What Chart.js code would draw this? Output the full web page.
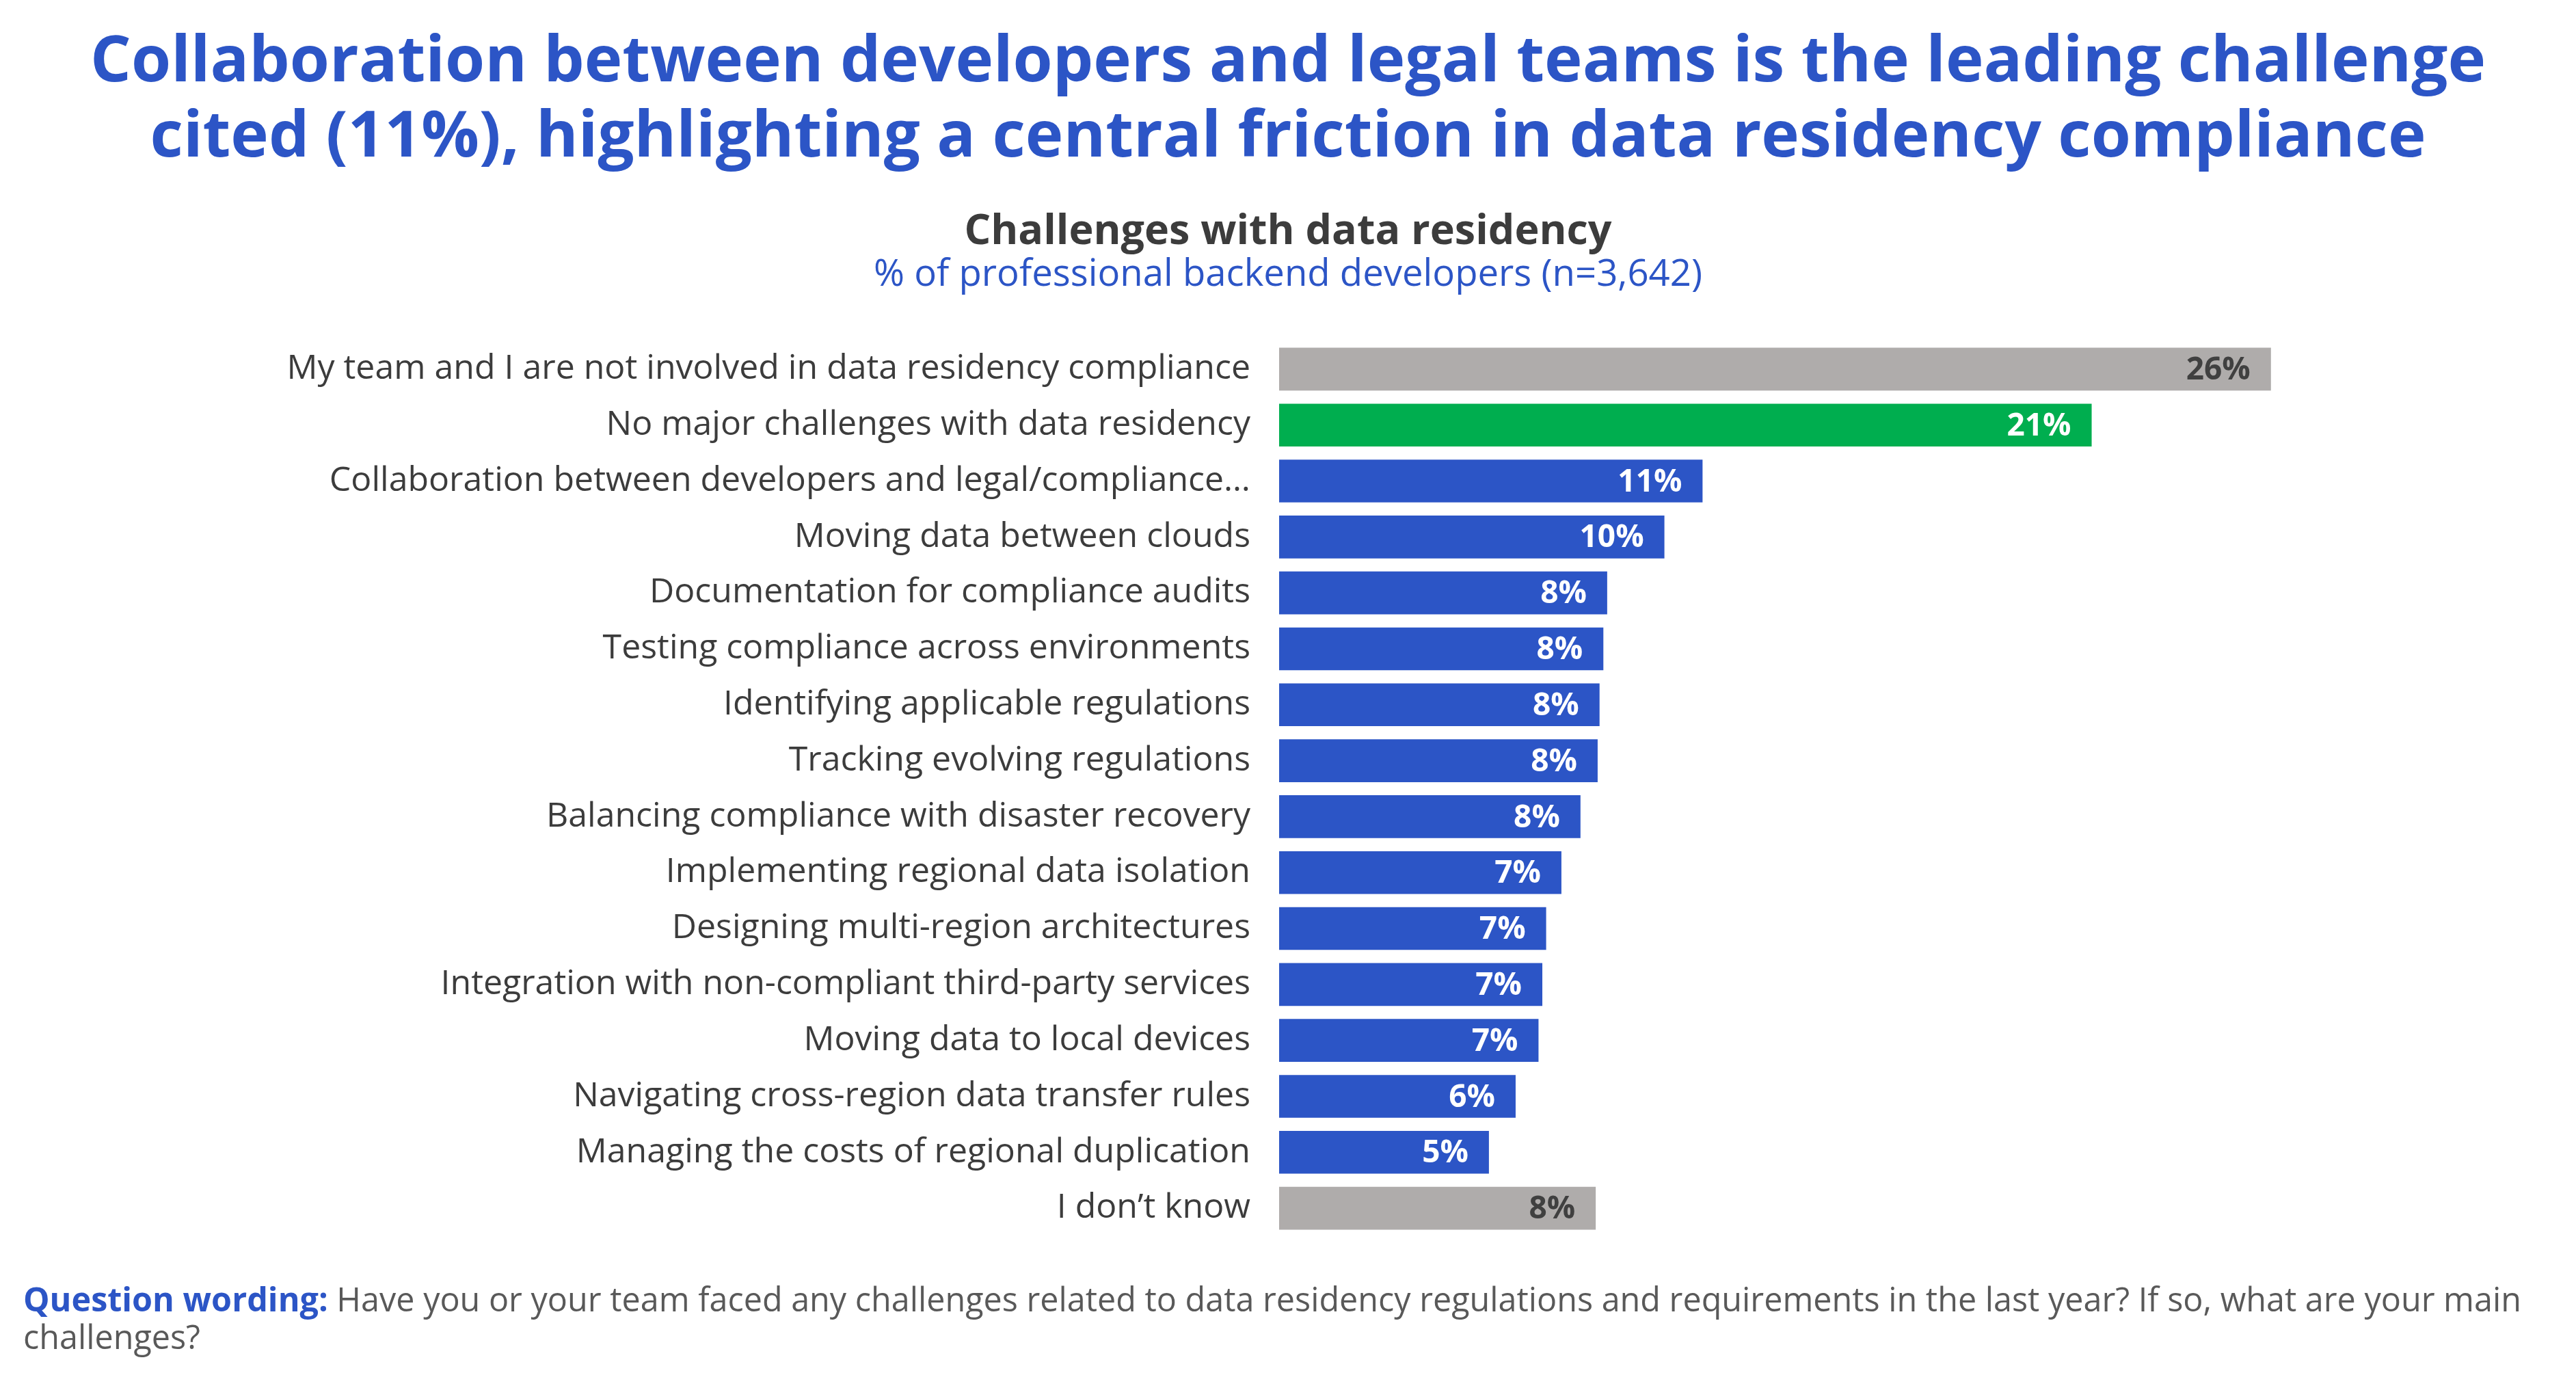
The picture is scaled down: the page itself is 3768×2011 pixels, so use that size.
<!DOCTYPE html>
<html>
<head>
<meta charset="utf-8">
<script src="https://cdn.jsdelivr.net/npm/chart.js@4.4.1/dist/chart.umd.min.js"></script>
<style>
  html, body { margin: 0; padding: 0; background: #fff; }
  body { width: 3768px; height: 2011px; position: relative; overflow: hidden; font-family: "Open Sans", sans-serif; }
  .txt { position: absolute; left: 0; width: 3768px; text-align: center; line-height: 1; white-space: nowrap; }
  .title { font-weight: 700; font-size: 94px; color: #2c55c6; }
  .sub1 { font-weight: 700; font-size: 61px; color: #3c3c3c; }
  .sub2 { font-size: 54.5px; color: #2c55c6; }
  .foot { text-align: left; left: 34px; font-size: 48.5px; color: #595959; }
  .foot b { color: #2c55c6; }
  #chart { position: absolute; left: 0; top: 0; }
</style>
</head>
<body>
<div class="txt title" style="top:36px">Collaboration between developers and legal teams is the leading challenge</div>
<div class="txt title" style="top:146px">cited (11%), highlighting a central friction in data residency compliance</div>
<div class="txt sub1" style="top:303px">Challenges with data residency</div>
<div class="txt sub2" style="top:370px">% of professional backend developers (n=3,642)</div>
<canvas id="chart" width="3768" height="2011"></canvas>
<div class="txt foot" style="top:1875px"><b>Question wording:</b> Have you or your team faced any challenges related to data residency regulations and requirements in the last year? If so, what are your main</div>
<div class="txt foot" style="top:1930px">challenges?</div>
<script>
// data
var categories = [
    'My team and I are not involved in data residency compliance',
    'No major challenges with data residency',
    'Collaboration between developers and legal/compliance…',
    'Moving data between clouds',
    'Documentation for compliance audits',
    'Testing compliance across environments',
    'Identifying applicable regulations',
    'Tracking evolving regulations',
    'Balancing compliance with disaster recovery',
    'Implementing regional data isolation',
    'Designing multi-region architectures',
    'Integration with non-compliant third-party services',
    'Moving data to local devices',
    'Navigating cross-region data transfer rules',
    'Managing the costs of regional duplication',
    'I don\u2019t know'
];
var values = [26, 21.3, 11.1, 10.1, 8.6, 8.5, 8.4, 8.35, 7.9, 7.4, 7.0, 6.9, 6.8, 6.2, 5.5, 8.3];
var shownLabels = ['26%', '21%', '11%', '10%', '8%', '8%', '8%', '8%', '8%', '7%', '7%', '7%', '7%', '6%', '5%', '8%'];
// bar groups: 'other' = grey, 'none' = green, 'challenge' = blue
var groups = ['other', 'none', 'challenge', 'challenge', 'challenge', 'challenge', 'challenge', 'challenge',
    'challenge', 'challenge', 'challenge', 'challenge', 'challenge', 'challenge', 'challenge', 'other'];

var groupColor = { other: '#afacab', none: '#00ae4f', challenge: '#2c55c6' };
var groupText = { other: '#404040', none: '#ffffff', challenge: '#ffffff' };

var valueLabels = {
    id: 'valueLabels',
    afterDatasetsDraw: function(chart) {
        var ctx = chart.ctx;
        var meta = chart.getDatasetMeta(0);
        ctx.save();
        ctx.font = '700 46px "Open Sans"';
        ctx.textAlign = 'right';
        ctx.textBaseline = 'middle';
        meta.data.forEach(function(bar, i) {
            ctx.fillStyle = groupText[groups[i]];
            ctx.fillText(shownLabels[i], bar.x - 30, bar.y + 2);
        });
        ctx.restore();
    }
};

var ctx = document.getElementById('chart').getContext('2d');
var myChart = new Chart(ctx, {
    type: 'bar',
    data: {
        labels: categories,
        datasets: [{
            data: values,
            backgroundColor: groups.map(function(g) { return groupColor[g]; }),
            borderWidth: 0,
            categoryPercentage: 1,
            barPercentage: 0.765
        }]
    },
    options: {
        indexAxis: 'y',
        responsive: false,
        animation: false,
        devicePixelRatio: 1,
        layout: {
            padding: { top: 499, bottom: 203, left: 0, right: 223 }
        },
        plugins: {
            legend: { display: false },
            tooltip: { enabled: false }
        },
        scales: {
            x: {
                display: false,
                min: 0,
                max: 30
            },
            y: {
                grid: { display: false, drawTicks: false },
                border: { display: false },
                ticks: {
                    autoSkip: false,
                    padding: 42,
                    color: '#3c3c3c',
                    font: { family: '"Open Sans"', size: 50, weight: 500 }
                },
                afterFit: function(scale) {
                    scale.width = 1871;
                }
            }
        }
    },
    plugins: [valueLabels]
});
</script>
</body>
</html>
